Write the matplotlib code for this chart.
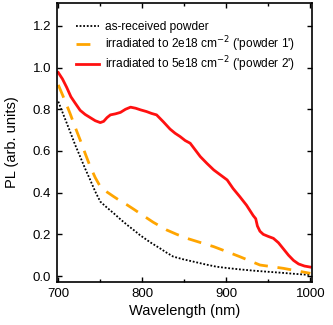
import matplotlib
matplotlib.use("Agg")
import matplotlib.pyplot as plt
from matplotlib.ticker import MultipleLocator

plt.rcParams['font.family'] = ['Liberation Sans', 'DejaVu Sans']

wl_black = [700, 707, 714, 720, 726, 732, 738, 744, 750, 758, 766, 774, 782, 790, 797, 809, 821, 829, 837, 849, 861, 875, 888, 902, 916, 932, 948, 965, 980, 1000]
pl_black = [0.837, 0.765, 0.693, 0.630, 0.573, 0.515, 0.461, 0.405, 0.357, 0.328, 0.301, 0.272, 0.245, 0.220, 0.197, 0.163, 0.133, 0.112, 0.093, 0.080, 0.069, 0.056, 0.045, 0.038, 0.032, 0.026, 0.021, 0.016, 0.011, 0.005]

wl_orange = [700, 707, 714, 720, 726, 732, 738, 744, 750, 758, 766, 774, 782, 790, 797, 813, 829, 841, 853, 869, 885, 900, 916, 928, 940, 954, 968, 984, 1000]
pl_orange = [0.917, 0.850, 0.780, 0.715, 0.653, 0.588, 0.525, 0.472, 0.429, 0.403, 0.381, 0.360, 0.341, 0.320, 0.301, 0.258, 0.221, 0.200, 0.181, 0.161, 0.141, 0.118, 0.093, 0.073, 0.053, 0.045, 0.037, 0.025, 0.013]

wl_red = [700, 705, 710, 715, 720, 726, 732, 738, 744, 750, 754, 758, 762, 768, 774, 780, 786, 792, 798, 805, 811, 817, 825, 833, 839, 845, 851, 857, 863, 869, 877, 885, 893, 901, 908, 916, 924, 932, 935, 937, 940, 944, 950, 956, 962, 968, 974, 980, 986, 993, 1000]
pl_red = [0.976, 0.945, 0.905, 0.860, 0.830, 0.795, 0.775, 0.760, 0.745, 0.736, 0.742, 0.760, 0.773, 0.778, 0.785, 0.800, 0.810, 0.805, 0.797, 0.789, 0.780, 0.773, 0.740, 0.705, 0.685, 0.669, 0.650, 0.637, 0.605, 0.573, 0.540, 0.509, 0.485, 0.461, 0.420, 0.381, 0.340, 0.290, 0.275, 0.240, 0.215, 0.200, 0.190, 0.181, 0.160, 0.130, 0.100, 0.075, 0.058, 0.048, 0.043]

labels = ["as-received powder",
          "irradiated to 2e18 cm$^{-2}$ ('powder 1')",
          "irradiated to 5e18 cm$^{-2}$ ('powder 2')"]

fig = plt.figure(figsize=(3.33, 3.25), dpi=100)
ax = fig.add_axes([0.170, 0.132, 0.767, 0.859])

ax.plot(wl_black, pl_black, color='black', linestyle=(0, (1, 1)), linewidth=1.3, label=labels[0])
ax.plot(wl_orange, pl_orange, color='#ffa500', linestyle=(0, (5, 3.5)), linewidth=2.0, label=labels[1])
ax.plot(wl_red, pl_red, color='#ff1010', linestyle='-', linewidth=2.0, label=labels[2])

ax.set_xlim(698, 1002)
ax.set_ylim(-0.029, 1.31)
ax.xaxis.set_major_locator(MultipleLocator(100))
ax.xaxis.set_minor_locator(MultipleLocator(50))
ax.yaxis.set_major_locator(MultipleLocator(0.2))
ax.yaxis.set_major_formatter(matplotlib.ticker.FormatStrFormatter('%.1f'))
ax.tick_params(which='both', direction='in', top=True, right=True, labelsize=9.5, width=1, colors='black')
ax.tick_params(which='major', length=3.5, pad=4)
ax.tick_params(which='minor', length=2)
for s in ax.spines.values():
    s.set_linewidth(1.2)

ax.set_xlabel("Wavelength (nm)", fontsize=10.5, labelpad=3)
ax.set_ylabel("PL (arb. units)", fontsize=10.5, labelpad=10)

ax.legend(loc='upper left', bbox_to_anchor=(0.045, 0.965), frameon=False, fontsize=8.6,
          handlelength=1.85, handletextpad=0.55, labelspacing=0.08, borderaxespad=0.3)

fig.savefig("out.png", dpi=100)
